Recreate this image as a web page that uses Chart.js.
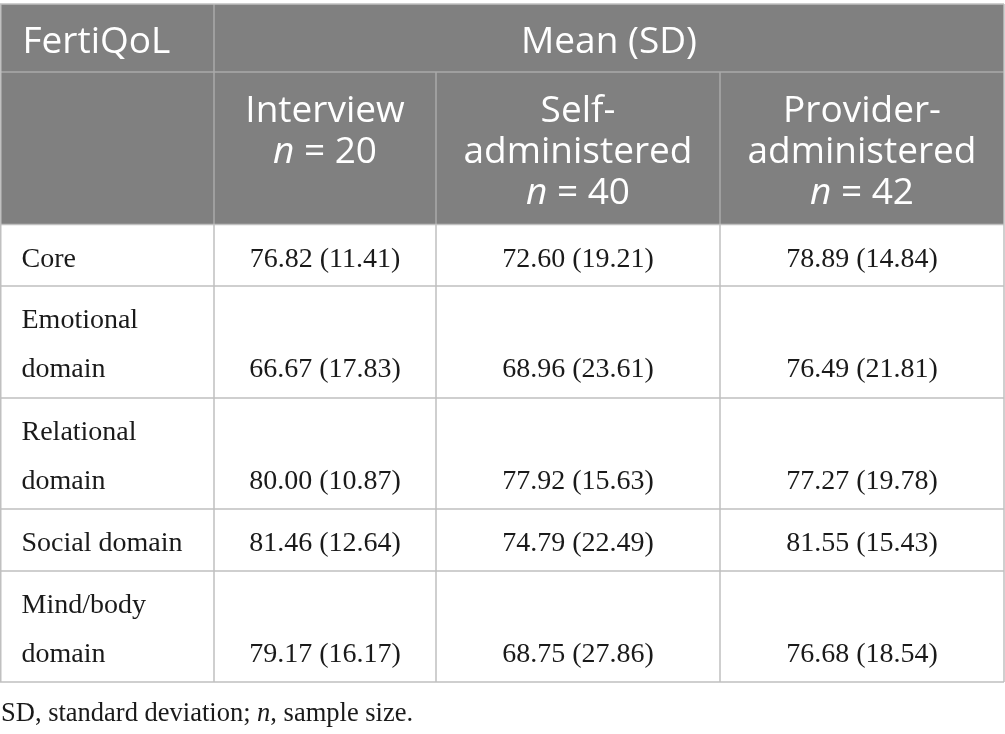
<!DOCTYPE html>
<html>
<head>
<meta charset="utf-8">
<script src="https://cdn.jsdelivr.net/npm/chart.js@4.4.1/dist/chart.umd.min.js"></script>
<style>
  html, body { margin: 0; padding: 0; background: #fff; }
  #tbl { display: block; }
</style>
</head>
<body>
<canvas id="tbl" width="1005" height="734"></canvas>
<script>
// table data
const stubHeader = "FertiQoL";
const spanHeader = "Mean (SD)";
const groupNames = [["Interview"], ["Self-", "administered"], ["Provider-", "administered"]];
const sampleSizes = [20, 40, 42];
const domains = [["Core"], ["Emotional", "domain"], ["Relational", "domain"], ["Social domain"], ["Mind/body", "domain"]];
const interviewMean = [76.82, 66.67, 80.00, 81.46, 79.17];
const interviewSD = [11.41, 17.83, 10.87, 12.64, 16.17];
const selfMean = [72.60, 68.96, 77.92, 74.79, 68.75];
const selfSD = [19.21, 23.61, 15.63, 22.49, 27.86];
const providerMean = [78.89, 76.49, 77.27, 81.55, 76.68];
const providerSD = [14.84, 21.81, 19.78, 15.43, 18.54];
const footnote = ["SD, standard deviation; ", "n", ", sample size."];

// layout (in scale units, 1 unit = 1px of the canvas)
const colEdges = [0, 214, 436, 720, 1004];
const rowEdges = [4, 72, 224.5, 286, 398, 509, 571, 682];

const means = [interviewMean, selfMean, providerMean];
const sds = [interviewSD, selfSD, providerSD];

const sans = '"Open Sans", "Noto Sans", sans-serif';
const serif = '"Liberation Serif", "DejaVu Serif", serif';

// draw a run of [text, italic] pieces centred on cx (or left from x)
function drawRuns(ctx, runs, x, y, size, family, align) {
    const fonts = runs.map((r) => (r[1] ? "italic " : "") + size + "px " + family);
    let widths = runs.map((r, i) => { ctx.font = fonts[i]; return ctx.measureText(r[0]).width; });
    let total = widths.reduce((a, b) => a + b, 0);
    let cur = align === "center" ? x - total / 2 : x;
    ctx.textAlign = "left";
    runs.forEach((r, i) => {
        ctx.font = fonts[i];
        ctx.fillText(r[0], cur, y);
        cur += widths[i];
    });
}

const tablePlugin = {
    id: "table",
    afterDraw(chart) {
        const ctx = chart.ctx;
        const X = (v) => chart.scales.x.getPixelForValue(v);
        const Y = (v) => chart.scales.y.getPixelForValue(v);
        const left = X(colEdges[0]), right = X(colEdges[colEdges.length - 1]);
        const top = Y(rowEdges[0]), headBottom = Y(rowEdges[2]), bottom = Y(rowEdges[rowEdges.length - 1]);

        ctx.save();
        // header background
        ctx.fillStyle = "#808080";
        ctx.fillRect(left, top, right - left, headBottom - top);

        // header rules
        ctx.lineWidth = 1.5;
        ctx.strokeStyle = "#a9a9a9";
        ctx.beginPath();
        ctx.moveTo(left, Y(rowEdges[1])); ctx.lineTo(right, Y(rowEdges[1]));
        ctx.moveTo(X(colEdges[1]), top); ctx.lineTo(X(colEdges[1]), headBottom);
        for (let c = 2; c < colEdges.length - 1; c++) {
            ctx.moveTo(X(colEdges[c]), Y(rowEdges[1])); ctx.lineTo(X(colEdges[c]), headBottom);
        }
        ctx.stroke();

        // outer border + body grid
        ctx.strokeStyle = "#c0c0c0";
        ctx.beginPath();
        ctx.moveTo(left, top); ctx.lineTo(right, top);
        ctx.moveTo(left + 0.75, top); ctx.lineTo(left + 0.75, bottom);
        ctx.moveTo(right, top); ctx.lineTo(right, bottom);
        for (let r = 2; r < rowEdges.length; r++) {
            ctx.moveTo(left, Y(rowEdges[r])); ctx.lineTo(right, Y(rowEdges[r]));
        }
        for (let c = 1; c < colEdges.length - 1; c++) {
            ctx.moveTo(X(colEdges[c]), headBottom); ctx.lineTo(X(colEdges[c]), bottom);
        }
        ctx.stroke();

        // header text
        ctx.fillStyle = "#ffffff";
        ctx.textBaseline = "alphabetic";
        drawRuns(ctx, [[stubHeader, false]], X(colEdges[0]) + 22.5, Y(rowEdges[0]) + 49, 37, sans, "left");
        drawRuns(ctx, [[spanHeader, false]], (X(colEdges[1]) + right) / 2, Y(rowEdges[0]) + 49, 37, sans, "center");
        groupNames.forEach((lines, g) => {
            const cx = (X(colEdges[g + 1]) + X(colEdges[g + 2])) / 2;
            let y = Y(rowEdges[1]) + 50;
            lines.forEach((ln) => {
                drawRuns(ctx, [[ln, false]], cx, y, 37, sans, "center");
                y += 41;
            });
            drawRuns(ctx, [["n", true], [" = " + sampleSizes[g], false]], cx, y, 37, sans, "center");
        });

        // body text
        ctx.fillStyle = "#1a1a1a";
        domains.forEach((lines, r) => {
            const rowTop = Y(rowEdges[r + 2]);
            lines.forEach((ln, i) => {
                drawRuns(ctx, [[ln, false]], X(colEdges[0]) + 21.5, rowTop + 42 + 49 * i, 28, serif, "left");
            });
            const vy = rowTop + 42 + 49 * (lines.length - 1);
            means.forEach((m, g) => {
                const cx = (X(colEdges[g + 1]) + X(colEdges[g + 2])) / 2;
                const txt = m[r].toFixed(2) + " (" + sds[g][r].toFixed(2) + ")";
                drawRuns(ctx, [[txt, false]], cx, vy, 28, serif, "center");
            });
        });

        // footnote
        drawRuns(ctx, [[footnote[0], false], [footnote[1], true], [footnote[2], false]],
            X(colEdges[0]) + 1, bottom + 38.5, 26.5, serif, "left");
        ctx.restore();
    },
};

const ctx = document.getElementById("tbl").getContext("2d");
const table = new Chart(ctx, {
    type: "scatter",
    data: { datasets: [] },
    options: {
        responsive: false,
        animation: false,
        devicePixelRatio: 1,
        layout: { padding: 0 },
        plugins: { legend: { display: false }, tooltip: { enabled: false } },
        scales: {
            x: { type: "linear", min: 0, max: 1005, display: false },
            y: { type: "linear", min: 0, max: 734, reverse: true, display: false },
        },
    },
    plugins: [tablePlugin],
});
</script>
</body>
</html>
